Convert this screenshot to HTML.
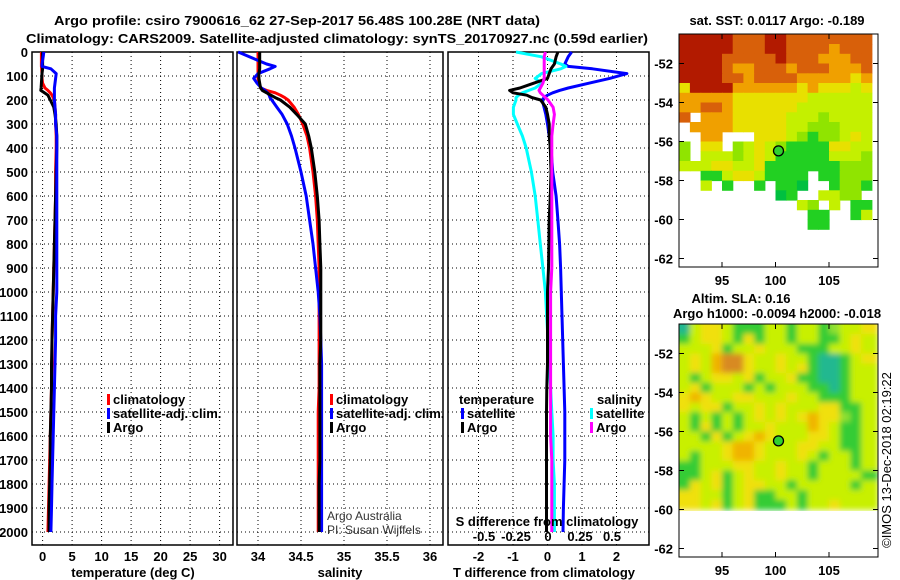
<!DOCTYPE html>
<html><head><meta charset="utf-8"><style>
html,body{margin:0;padding:0;background:#fff;}
svg{display:block;font-family:"Liberation Sans",sans-serif;}
.b{font-weight:bold;font-size:13px;}
</style></head>
<body>
<svg id="fig" width="900" height="580" viewBox="0 0 900 580" xmlns="http://www.w3.org/2000/svg">
<defs>
<filter id="blur" x="-5%" y="-5%" width="110%" height="110%"><feGaussianBlur stdDeviation="3"/></filter>
<clipPath id="slaClip"><rect x="679" y="324" width="199" height="187"/></clipPath>
</defs>
<text class="b" x="297" y="25" text-anchor="middle" textLength="486" lengthAdjust="spacingAndGlyphs">Argo profile: csiro 7900616_62 27-Sep-2017 56.48S 100.28E (NRT data)</text>
<text class="b" x="337" y="43" text-anchor="middle" textLength="622" lengthAdjust="spacingAndGlyphs">Climatology: CARS2009. Satellite-adjusted climatology: synTS_20170927.nc (0.59d earlier)</text>
<g id="g"></g>
</svg>
<script>
// ---- data ----
const depths = [0,20,50,60,70,90,110,130,150,160,170,180,190,200,230,260,300,350,400,500,600,700,800,900,1000,1100,1200,1300,1400,1500,1600,1700,1800,1900,2000];
const tempClim = [-0.2,-0.2,-0.2,-0.2,-0.15,-0.1,-0.1,0.0,0.4,0.9,1.3,1.6,1.8,2.0,2.1,2.2,2.2,2.3,2.3,2.2,2.2,2.1,2.0,1.9,1.8,1.7,1.6,1.6,1.5,1.4,1.3,1.2,1.1,1.0,0.9];
const tempSat = [0.2,0.1,-0.1,-0.1,1.4,2.3,2.2,2.1,2.0,2.0,2.0,2.0,2.0,2.0,2.1,2.2,2.2,2.4,2.4,2.4,2.4,2.4,2.4,2.4,2.4,2.2,2.2,2.1,2.0,1.9,1.8,1.7,1.6,1.5,1.4];
const tempArgo = [0.0,0.0,0.0,0.0,0.0,-0.1,-0.15,-0.2,-0.25,-0.3,0.3,0.9,1.1,1.3,1.9,2.1,2.3,2.4,2.4,2.3,2.2,2.1,2.0,1.9,1.8,1.7,1.6,1.5,1.5,1.4,1.3,1.3,1.2,1.1,1.1];
const salClim = [34.0,34.0,34.0,34.0,34.0,34.0,34.0,34.01,34.03,34.1,34.2,34.26,34.31,34.35,34.42,34.47,34.52,34.57,34.6,34.64,34.67,34.69,34.7,34.71,34.71,34.71,34.71,34.71,34.71,34.7,34.7,34.7,34.7,34.7,34.7];
const salSat = [33.77,33.9,34.1,34.2,34.14,34.0,33.95,33.99,34.04,34.08,34.11,34.13,34.14,34.16,34.22,34.28,34.34,34.39,34.43,34.5,34.56,34.6,34.64,34.67,34.7,34.72,34.73,34.74,34.74,34.74,34.74,34.74,34.74,34.74,34.74];
const salArgo = [34.02,34.02,34.02,34.02,34.02,34.01,34.01,34.02,34.03,34.05,34.1,34.15,34.2,34.26,34.37,34.45,34.55,34.59,34.62,34.66,34.69,34.71,34.72,34.73,34.73,34.73,34.73,34.72,34.72,34.72,34.72,34.72,34.71,34.71,34.71];
const tDiffSat = [0.7,0.6,0.5,0.6,1.3,2.3,1.8,1.2,0.6,0.35,0.15,0.0,-0.1,-0.15,-0.1,-0.05,0.0,0.05,0.1,0.15,0.25,0.3,0.35,0.38,0.4,0.42,0.44,0.46,0.48,0.5,0.5,0.5,0.48,0.46,0.45];
const tDiffArgo = [0.3,0.25,0.2,0.15,0.1,0.05,0.0,-0.4,-0.8,-1.1,-1.0,-0.6,-0.45,-0.2,-0.05,0.0,0.05,0.05,0.08,0.1,0.08,0.05,0.04,0.03,0.0,0.0,0.0,0.0,-0.02,-0.03,-0.03,-0.03,-0.03,-0.03,-0.03];
const sDiffSat = [-0.25,-0.05,0.1,0.14,0.1,-0.05,-0.1,-0.05,-0.1,-0.15,-0.2,-0.23,-0.25,-0.25,-0.27,-0.27,-0.24,-0.2,-0.17,-0.13,-0.1,-0.08,-0.06,-0.04,-0.02,-0.01,0.0,0.01,0.02,0.03,0.04,0.04,0.05,0.05,0.05];
const sDiffArgo = [-0.02,-0.03,-0.03,-0.03,-0.03,-0.03,-0.03,-0.04,-0.06,-0.07,-0.06,-0.04,-0.02,0.0,0.04,0.05,0.04,0.03,0.03,0.03,0.03,0.03,0.03,0.03,0.02,0.02,0.02,0.02,0.02,0.02,0.02,0.03,0.03,0.03,0.03];
const depthTicks = [0,100,200,300,400,500,600,700,800,900,1000,1100,1200,1300,1400,1500,1600,1700,1800,1900,2000];
const tempTicks = [0,5,10,15,20,25,30];
const salTicks = [34,34.5,35,35.5,36];
const tDiffTicks = [-2,-1,0,1,2];
const sDiffTicks = [-0.5,-0.25,0,0.25,0.5];
const sDiffTickLabels = ["-0.5","-0.25","0","0.25","0.5"];
const lonTicks = [95,100,105];
const latTicks = [-52,-54,-56,-58,-60,-62];
const floatLon = 100.28;
const floatLat = -56.48;
const sstRows = [
"111112221122222222","111112221122223222","111122222122233322","111123322232223332",
"111122322223333343","411113333334344454","333334444444555555","332234444445555555",
"203334444455565555","033334444455666555","003300044456766545","604406545677774455",
"605556545777775556","555445547777777666","007754457777077666","005070070778007667",
"000000000870055660","000000000005605077","000000000000770075","000000000000770000"];
const slaRows = [
"034431113313312334","134431413313311343","333413343331113343","343566433433100134",
"343566433434100133","313443413341100133","341333131333110133","454334433343311133",
"434413343433344113","313131343434544213","314131334333543113","331413454333443113",
"333345543334433113","313345543334313313","113334433433133313","113413433433133331",
"143413443313333313","443313411331333333","443413411131334333"];
const sstColors = ["none","#b21a00","#d8600a","#f0a000","#e8e000","#c4f000","#90e400","#22d022","#00c040"];
const slaColors = ["#20b890","#34cc34","#90e030","#c8f000","#f0e010","#f0b400","#d88a20"];

// ---- helpers ----
const NS="http://www.w3.org/2000/svg";
const G=document.getElementById('g');
function mk(tag,attrs,parent){const e=document.createElementNS(NS,tag);for(const k in attrs)e.setAttribute(k,attrs[k]);(parent||G).appendChild(e);return e;}
const yD = d => 52 + d*0.24;
const Y0=52, Y1=545;
function lin(v0,p0,v1,p1){return v=>p0+(v-v0)*(p1-p0)/(v1-v0);}
const xT = lin(0,42.6,30,219.6);
const xS = lin(34,258,36,430);
const xTD = lin(0,547.5,2,616.5);
const xSD = lin(0,548,0.5,612);

function panel(name,x0,x1,ticks,xf,labels,title,titleX){
  const gp=mk('g',{});
  
  
  depthTicks.forEach(d=>{
    const l=mk('line',{x1:x0,x2:x1,y1:yD(d),y2:yD(d),stroke:'#000','stroke-width':1,'stroke-dasharray':'1,3'},gp);
    
    
  });
  ticks.forEach((t,i)=>{
    const l=mk('line',{x1:xf(t),x2:xf(t),y1:Y0,y2:Y1,stroke:'#000','stroke-width':1,'stroke-dasharray':'1,3'},gp);
    
    
    const tx=mk('text',{x:xf(t),y:561,'text-anchor':'middle','class':'b'},gp);
    tx.textContent=labels?labels[i]:String(t);
    
    
  });
  const r=mk('rect',{x:x0,y:Y0,width:x1-x0,height:Y1-Y0,fill:'none',stroke:'#000','stroke-width':1.5},gp);
  
  
  const tt=mk('text',{x:titleX,y:577,'text-anchor':'middle','class':'b'},gp);
  tt.textContent=title;
  
  
  return gp;
}
function series(gp,vals,xf,color,name){
  const pts=vals.map((v,i)=>xf(v).toFixed(1)+','+yD(depths[i]).toFixed(1)).join(' ');
  const p=mk('polyline',{points:pts,fill:'none',stroke:color,'stroke-width':3,'stroke-linejoin':'round'},gp);
  
  
}
function legend(gp,x,y,color,label,name){
  const m=mk('rect',{x:x,y:y-10,width:3,height:11,fill:color},gp);
  
  
  const t=mk('text',{x:x+6,y:y,'class':'b'},gp);
  t.textContent=label;
  
  
}

depthTicks.forEach(d=>{
  const t=mk('text',{x:28,y:yD(d)+5,'text-anchor':'end','class':'b'});
  t.textContent=String(d);
  
  
});

const p1=panel('temperature-panel',32,233,tempTicks,xT,null,'temperature (deg C)',133);
series(p1,tempClim,xT,'#f00','temp-climatology-line');
series(p1,tempArgo,xT,'#000','temp-argo-line');
series(p1,tempSat,xT,'#00f','temp-satellite-line');
legend(p1,107,404,'#f00','climatology','legend-climatology');
legend(p1,107,418,'#00f','satellite-adj. clim.','legend-satellite-adj');
legend(p1,107,432,'#000','Argo','legend-argo');

const p2=panel('salinity-panel',237,443,salTicks,xS,null,'salinity',340);
series(p2,salClim,xS,'#f00','sal-climatology-line');
series(p2,salSat,xS,'#00f','sal-satellite-line');
series(p2,salArgo,xS,'#000','sal-argo-line');
legend(p2,330,404,'#f00','climatology','legend-climatology');
legend(p2,330,418,'#00f','satellite-adj. clim.','legend-satellite-adj');
legend(p2,330,432,'#000','Argo','legend-argo');
const a1=mk('text',{x:327,y:520,'font-size':'12',fill:'#333'},p2);a1.textContent='Argo Australia';


const a2=mk('text',{x:327,y:534,'font-size':'12',fill:'#333'},p2);a2.textContent='PI: Susan Wijffels';



const p3=panel('difference-panel',448,649,tDiffTicks,xTD,null,'T difference from climatology',544);
series(p3,tDiffSat,xTD,'#00f','tdiff-satellite-line');
series(p3,sDiffSat,xSD,'#0ff','sdiff-satellite-line');
series(p3,tDiffArgo,xTD,'#000','tdiff-argo-line');
series(p3,sDiffArgo,xSD,'#f0f','sdiff-argo-line');
const lt=mk('text',{x:459,y:404,'class':'b'},p3);lt.textContent='temperature';


const ls=mk('text',{x:597,y:404,'class':'b'},p3);ls.textContent='salinity';


legend(p3,461,418,'#00f','satellite','legend-t-satellite');
legend(p3,461,432,'#000','Argo','legend-t-argo');
legend(p3,590,418,'#0ff','satellite','legend-s-satellite');
legend(p3,590,432,'#f0f','Argo','legend-s-argo');
const st=mk('text',{x:547,y:526,'text-anchor':'middle','class':'b'},p3);st.textContent='S difference from climatology';


sDiffTicks.forEach((s,i)=>{
  const t=mk('text',{x:xSD(s),y:541,'text-anchor':'middle','class':'b'},p3);
  t.textContent=sDiffTickLabels[i];
  
  
});

const xLon = lin(95,722,105,829);
function mapPanel(name,top,rows,colors,titles,xlabY,smooth){
  const yLat = lin(-52,top+29.5,-62,top+224.5);
  const gm=mk('g',{});
  
  
  let cells=gm;
  if(smooth){
    const clipG=mk('g',{'clip-path':'url(#slaClip)'},gm);
    cells=mk('g',{filter:'url(#blur)'},clipG);
  }
  rows.forEach((row,r)=>{
    for(let c=0;c<row.length;c++){
      const col=colors[+row[c]];
      if(col==='none')continue;
      const x0=xLon(91+c),x1=xLon(92+c);
      const ya=yLat(-50.5-r*0.5),yb=yLat(-51-r*0.5);
      const ext=smooth?((c===0?-6:0)):0;
      const cell=mk('rect',{x:(x0+ext).toFixed(1),y:(ya-(smooth&&r===0?6:0)).toFixed(1),width:(x1-x0+0.6-ext+(smooth&&c===row.length-1?6:0)).toFixed(1),height:(yb-ya+0.6+(smooth&&r===0?6:0)+(smooth&&r===rows.length-1?0:0)).toFixed(1),fill:col},cells);
      
      
    }
  });
  const fr=mk('rect',{x:679,y:top,width:199,height:233,fill:'none',stroke:'#000','stroke-width':1},gm);
  
  
  latTicks.forEach(l=>{
    mk('line',{x1:679,x2:684,y1:yLat(l),y2:yLat(l),stroke:'#000'},gm);
    mk('line',{x1:873,x2:878,y1:yLat(l),y2:yLat(l),stroke:'#000'},gm);
    const t=mk('text',{x:673,y:yLat(l)+5,'text-anchor':'end','class':'b'},gm);
    t.textContent=String(l);
    
    
  });
  lonTicks.forEach(l=>{
    mk('line',{x1:xLon(l),x2:xLon(l),y1:top,y2:top+5,stroke:'#000'},gm);
    mk('line',{x1:xLon(l),x2:xLon(l),y1:top+228,y2:top+233,stroke:'#000'},gm);
    const t=mk('text',{x:xLon(l),y:xlabY,'text-anchor':'middle','class':'b'},gm);
    t.textContent=String(l);
    
    
  });
  const dot=mk('circle',{cx:xLon(floatLon),cy:yLat(floatLat),r:5,fill:'#30d030',stroke:'#000','stroke-width':1.3},gm);
  
  
  titles.forEach(tt=>{
    const t=mk('text',{x:tt[0],y:tt[1],'text-anchor':'middle','class':'b'},gm);
    t.textContent=tt[2];
    
    
  });
}
mapPanel('sst-map',34,sstRows,sstColors,[[777,25,'sat. SST: 0.0117 Argo: -0.189']],285,false);
mapPanel('sla-map',324,slaRows,slaColors,[[741,303,'Altim. SLA: 0.16'],[777,318,'Argo h1000: -0.0094 h2000: -0.018']],575,true);
const cp=mk('text',{x:0,y:0,'font-size':'13',transform:'translate(891,460) rotate(-90)','text-anchor':'middle'});
cp.textContent='©IMOS 13-Dec-2018 02:19:22';


</script>
</body></html>
